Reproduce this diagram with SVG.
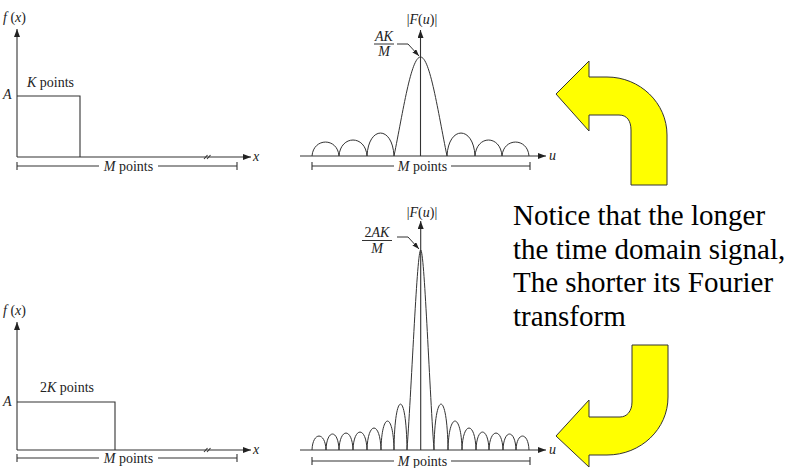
<svg xmlns="http://www.w3.org/2000/svg" width="787" height="468" viewBox="0 0 787 468">
<style>
.ln{stroke:#333;stroke-width:1.1;fill:none}
.cv{stroke:#333;stroke-width:1;fill:none}
.t{font-family:"Liberation Serif","Times New Roman",serif;font-size:14px;fill:#222}
.i{font-style:italic}
.big{font-family:"Liberation Serif","Times New Roman",serif;font-size:29px;fill:#000}
.arrow{fill:#FFFF00;stroke:#333;stroke-width:1}
</style>
<defs>
<marker id="ah" viewBox="0 0 8 6" refX="8" refY="3" markerWidth="8" markerHeight="6" markerUnits="userSpaceOnUse" orient="auto">
<path d="M0,0 L8,3 L0,6 Z" fill="#222"/>
</marker>
<marker id="ahs" viewBox="0 0 7 5" refX="7" refY="2.5" markerWidth="7" markerHeight="5" markerUnits="userSpaceOnUse" orient="auto">
<path d="M0,0 L7,2.5 L0,5 Z" fill="#222"/>
</marker>
</defs>
<rect width="787" height="468" fill="#fff"/>

<g id="panel-top-left">
<line class="ln" x1="17" y1="157" x2="17" y2="29" marker-end="url(#ah)"/>
<line class="ln" x1="17" y1="157" x2="251" y2="157" marker-end="url(#ah)"/>
<path class="ln" d="M17,96 H80 V157"/>
<path class="ln" d="M204,159 L207.5,155 M207,159 L210.5,155"/>
<path class="ln" d="M17,162 V170 M17,166 H99 M158,166 H237 M237,162 V170"/>
<text class="t" x="3" y="22"><tspan class="i">f</tspan> (<tspan class="i">x</tspan>)</text>
<text class="t i" x="3" y="99">A</text>
<text class="t" x="27" y="87"><tspan class="i">K</tspan> points</text>
<text class="t i" x="253" y="161">x</text>
<text class="t" x="128.5" y="171" text-anchor="middle"><tspan class="i">M</tspan> points</text>
</g>

<g id="panel-top-right">
<line class="ln" x1="300" y1="156" x2="546" y2="156" marker-end="url(#ah)"/>
<line class="ln" x1="420.5" y1="156" x2="420.5" y2="30" marker-end="url(#ah)"/>
<path class="cv" d="M312,156 C313.5,137.4 337.5,137.4 339,156 C340.5,134.7 365.5,134.7 367,156 C368.5,125.4 392.5,125.4 394,156 C403,112 411,57 420.5,57 C430,57 438,112 447,156 C448.5,125.4 473.5,125.4 475,156 C476.5,134.7 500.5,134.7 502,156 C503.5,137.4 527.5,137.4 529,156"/>
<path class="ln" d="M312,162 V170 M312,166 H394 M451,166 H530 M530,162 V170"/>
<path class="cv" d="M397,44 H408 L419,56" marker-end="url(#ahs)"/>
<line class="cv" x1="374" y1="44" x2="394" y2="44"/>
<text class="t" x="422" y="24" text-anchor="middle">|<tspan class="i">F</tspan>(<tspan class="i">u</tspan>)|</text>
<text class="t i" x="384" y="40.5" text-anchor="middle" font-size="13">AK</text>
<text class="t i" x="384" y="56" text-anchor="middle" font-size="13">M</text>
<text class="t i" x="549" y="160">u</text>
<text class="t" x="422.5" y="171" text-anchor="middle"><tspan class="i">M</tspan> points</text>
</g>

<g id="panel-bottom-left">
<line class="ln" x1="17" y1="450" x2="17" y2="322" marker-end="url(#ah)"/>
<line class="ln" x1="17" y1="450" x2="251" y2="450" marker-end="url(#ah)"/>
<path class="ln" d="M17,402 H115 V450"/>
<path class="ln" d="M204,452 L207.5,448 M207,452 L210.5,448"/>
<path class="ln" d="M17,454 V462 M17,458 H99 M158,458 H237 M237,454 V462"/>
<text class="t" x="3" y="315"><tspan class="i">f</tspan> (<tspan class="i">x</tspan>)</text>
<text class="t i" x="3" y="406">A</text>
<text class="t" x="40" y="392">2<tspan class="i">K</tspan> points</text>
<text class="t i" x="253" y="454">x</text>
<text class="t" x="128.5" y="463" text-anchor="middle"><tspan class="i">M</tspan> points</text>
</g>

<g id="panel-bottom-right">
<line class="ln" x1="300" y1="450" x2="546" y2="450" marker-end="url(#ah)"/>
<line class="ln" x1="420.7" y1="450" x2="420.7" y2="221" marker-end="url(#ah)"/>
<path class="cv" d="M312,450 C312.7,431.4 325.3,431.4 326,450 C326.7,428.7 338.3,428.7 339,450 C339.7,427.4 352.3,427.4 353,450 C353.7,426.1 366.3,426.1 367,450 C367.7,420.7 380.3,420.7 381,450 C381.7,411.4 393.3,411.4 394,450 C394.7,388.8 406.3,388.8 407,450 C412,380 417,250 420.7,250 C424.4,250 429,380 434,450 C434.7,388.8 447.3,388.8 448,450 C448.7,411.4 461.3,411.4 462,450 C462.7,420.7 475.3,420.7 476,450 C476.7,426.1 488.3,426.1 489,450 C489.7,427.4 502.3,427.4 503,450 C503.7,428.7 515.3,428.7 516,450 C516.7,431.4 528.3,431.4 529,450"/>
<path class="ln" d="M312,457 V465 M312,461 H394 M451,461 H530 M530,457 V465"/>
<path class="cv" d="M397,237 H408 L419,249" marker-end="url(#ahs)"/>
<line class="cv" x1="362" y1="240.5" x2="392" y2="240.5"/>
<text class="t" x="422" y="217" text-anchor="middle">|<tspan class="i">F</tspan>(<tspan class="i">u</tspan>)|</text>
<text class="t" x="377" y="236.5" text-anchor="middle" font-size="13">2<tspan class="i">AK</tspan></text>
<text class="t i" x="377" y="252.5" text-anchor="middle" font-size="13">M</text>
<text class="t i" x="549" y="454">u</text>
<text class="t" x="422.5" y="466" text-anchor="middle"><tspan class="i">M</tspan> points</text>
</g>

<g id="arrow-top">
<path class="arrow" d="M556,94 L589,61 L589,77 L607,77 C640,77 667,103 667,135 L667,185 L631,185 L631,130 C631,121 627,115 619,115 L589,115 L589,131 Z"/>
</g>
<g id="arrow-bottom">
<path class="arrow" d="M632,345 L668,345 L668,397 C668,429 641,455 607,455 L589,455 L589,467 L556,436 L589,400 L589,417 L620,417 C627,417 632,411 632,402 Z"/>
</g>

<g id="note">
<text class="big" x="513" y="225">Notice that the longer</text>
<text class="big" x="513" y="258.5">the time domain signal,</text>
<text class="big" x="513" y="292">The shorter its Fourier</text>
<text class="big" x="513" y="325.5">transform</text>
</g>
</svg>
